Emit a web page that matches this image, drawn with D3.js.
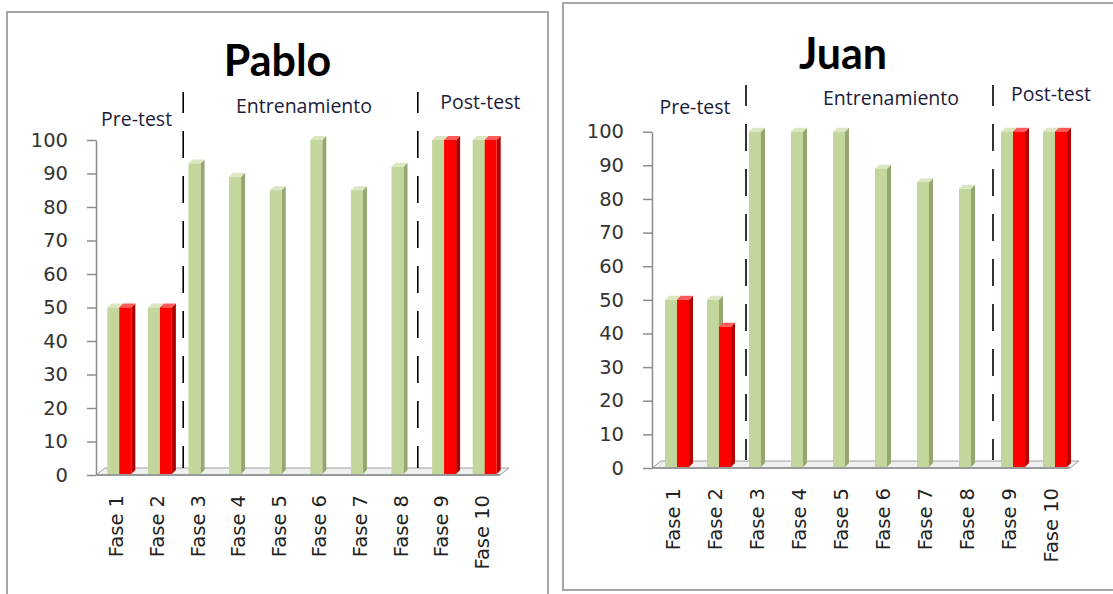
<!DOCTYPE html>
<html>
<head>
<meta charset="utf-8">
<script src="https://cdn.jsdelivr.net/npm/d3@7"></script>
<style>
  html, body { margin: 0; padding: 0; background: #ffffff; }
  svg { display: block; }
</style>
</head>
<body>
<svg id="chart" width="1113" height="594"></svg>
<script>
// ---------------- DATA ----------------
const categories = ['Fase 1','Fase 2','Fase 3','Fase 4','Fase 5','Fase 6','Fase 7','Fase 8','Fase 9','Fase 10'];
const titles = ['Pablo', 'Juan'];
const pabloGreen = [50, 50, 93, 89, 85, 100, 85, 92, 100, 100];
const pabloRed   = [50, 50, 0, 0, 0, 0, 0, 0, 100, 100];
const juanGreen  = [50, 50, 100, 100, 100, 89, 85, 83, 100, 100];
const juanRed    = [50, 42, 0, 0, 0, 0, 0, 0, 100, 100];
const yTicks = [0, 10, 20, 30, 40, 50, 60, 70, 80, 90, 100];
const phaseLabels = ['Pre-test', 'Entrenamiento', 'Post-test'];
const phaseStarts = ['Fase 1', 'Fase 3', 'Fase 9'];   // first category of each phase
const separatorsBefore = ['Fase 3', 'Fase 9'];

// ---------------- STYLE / LAYOUT ----------------
const colors = {
  green: { front: '#c3d69b', side: '#95a66e', top: '#dbe7c2' },
  red:   { front: '#ff0000', side: '#b00000', top: '#ff5a5a' }
};
const charts = [
  { title: titles[0], green: pabloGreen, red: pabloRed,
    panel: { x: 7, y: 12, w: 541, h: 620 }, titleY: 76,
    axisX: 96, y0: 475, y100: 140, right: 502, barShift: 3,
    sepDx: [6, -3], sepTop: 92, sepBottom: 468,
    phaseDx: [0, 5, 19], phaseY: [126, 113, 109], labelTop: 495 },
  { title: titles[1], green: juanGreen, red: juanRed,
    panel: { x: 563, y: 3, w: 580, h: 587 }, titleY: 69,
    axisX: 652, y0: 468, y100: 131.7, right: 1072, barShift: 4,
    sepDx: [10, 5], sepTop: 85, sepBottom: 460,
    phaseDx: [1, 29, 21], phaseY: [114, 105, 101], labelTop: 488 }
];
const barW = 12, depth = 4;

const svg = d3.select('#chart');

charts.forEach(c => {
  const g = svg.append('g');

  // panel border
  g.append('rect')
    .attr('x', c.panel.x).attr('y', c.panel.y)
    .attr('width', c.panel.w).attr('height', c.panel.h)
    .attr('fill', '#fff').attr('stroke', '#a6a6a6').attr('stroke-width', 2);

  // title
  g.append('text')
    .attr('x', c.panel.x + c.panel.w / 2 - (c.panel.w > 560 ? 10 : 0))
    .attr('y', c.titleY)
    .attr('text-anchor', 'middle')
    .attr('font-family', 'Lato, sans-serif').attr('font-weight', 'bold')
    .attr('font-size', 43).attr('fill', '#000')
    .text(c.title);

  const x0 = d3.scaleBand().domain(categories).range([c.axisX, c.right]);
  const x1 = d3.scaleBand().domain(['green', 'red']).range([0, 2 * barW]);
  const y = d3.scaleLinear().domain([0, 100]).range([c.y0, c.y100]);

  // floor (3D base)
  const fdx = 9, fdy = -7;
  g.append('polygon')
    .attr('points', [
      [c.axisX, c.y0], [c.right - 2, c.y0],
      [c.right - 2 + fdx, c.y0 + fdy], [c.axisX + fdx, c.y0 + fdy]
    ].map(p => p.join(',')).join(' '))
    .attr('fill', '#efefef').attr('stroke', '#a0a0a0').attr('stroke-width', 1);
  g.append('line')
    .attr('x1', c.axisX).attr('x2', c.right - 2)
    .attr('y1', c.y0).attr('y2', c.y0)
    .attr('stroke', '#9a9a9a').attr('stroke-width', 2);

  // y axis
  const yAxis = d3.axisLeft(y).tickValues(yTicks).tickSize(9).tickSizeOuter(0).tickPadding(19);
  const ya = g.append('g').attr('transform', `translate(${c.axisX},0)`).call(yAxis);
  ya.select('.domain').attr('stroke', '#8c8c8c').attr('stroke-width', 1.5);
  ya.selectAll('.tick line').attr('stroke', '#8c8c8c').attr('stroke-width', 1.5);
  ya.selectAll('.tick text')
    .attr('font-family', '"DejaVu Sans", Verdana, sans-serif')
    .attr('font-size', 19.5).attr('fill', '#333');

  // x axis labels (rotated)
  const xAxis = d3.axisBottom(x0).tickSize(0).tickPadding(0);
  const xa = g.append('g').attr('transform', `translate(0,${c.labelTop})`).call(xAxis);
  xa.select('.domain').remove();
  xa.selectAll('.tick text')
    .attr('font-family', '"DejaVu Sans", Verdana, sans-serif')
    .attr('font-size', 19.5).attr('fill', '#222')
    .attr('text-anchor', 'end')
    .attr('transform', 'rotate(-90)')
    .attr('x', 0).attr('y', 0).attr('dy', '0.36em');

  // bars
  const rows = [];
  categories.forEach((cat, i) => {
    rows.push({ cat, s: 'green', v: c.green[i] });
    rows.push({ cat, s: 'red', v: c.red[i] });
  });
  const bars = g.append('g');
  rows.filter(d => d.v > 0).forEach(d => {
    const bx = x0(d.cat) + x0.bandwidth() / 2 - barW + x1(d.s) + c.barShift;
    const top = y(d.v), bot = y(0) - 1;
    const col = colors[d.s];
    const bg = bars.append('g');
    // side face
    bg.append('polygon')
      .attr('points', [[bx + barW, top], [bx + barW + depth, top - depth],
                       [bx + barW + depth, bot - depth], [bx + barW, bot]]
        .map(p => p.join(',')).join(' '))
      .attr('fill', col.side);
    // top face
    bg.append('polygon')
      .attr('points', [[bx, top], [bx + depth, top - depth],
                       [bx + barW + depth, top - depth], [bx + barW, top]]
        .map(p => p.join(',')).join(' '))
      .attr('fill', col.top);
    // front face
    bg.append('rect')
      .attr('x', bx).attr('y', top)
      .attr('width', barW).attr('height', bot - top)
      .attr('fill', col.front);
  });

  // dashed separators
  separatorsBefore.forEach((cat, k) => {
    const sx = x0(cat) + c.sepDx[k];
    g.append('line')
      .attr('x1', sx).attr('x2', sx)
      .attr('y1', c.sepTop).attr('y2', c.sepBottom)
      .attr('stroke', '#000').attr('stroke-width', 1.6)
      .attr('stroke-dasharray', '27,18').attr('stroke-dashoffset', 6);
  });

  // phase labels
  phaseStarts.forEach((cat, k) => {
    const startX = x0(cat);
    const endX = k < phaseStarts.length - 1 ? x0(phaseStarts[k + 1]) : c.right;
    g.append('text')
      .attr('x', (startX + endX) / 2 + c.phaseDx[k])
      .attr('y', c.phaseY[k])
      .attr('text-anchor', 'middle')
      .attr('font-family', '"Open Sans", sans-serif')
      .attr('font-size', 19.5).attr('fill', '#1c1c3a')
      .text(phaseLabels[k]);
  });
});
</script>
</body>
</html>
